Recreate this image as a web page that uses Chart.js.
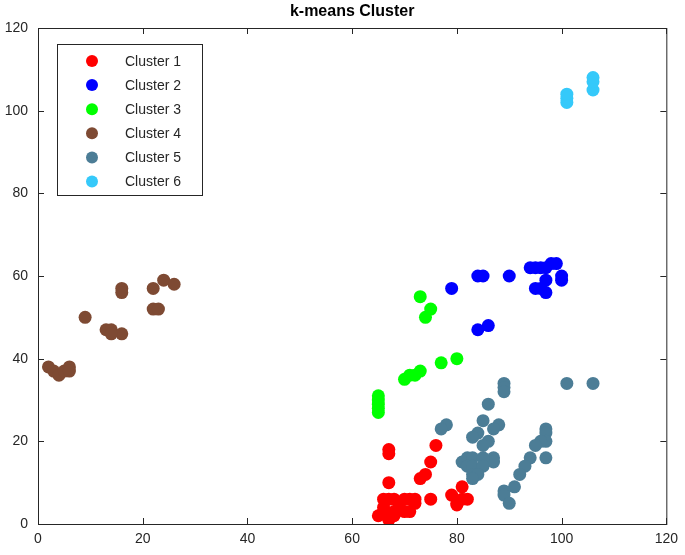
<!DOCTYPE html>
<html>
<head>
<meta charset="utf-8">
<script src="https://cdn.jsdelivr.net/npm/chart.js@4.4.1/dist/chart.umd.min.js"></script>
<style>
    html, body { margin: 0; padding: 0; background: #fff; }
    #wrap { width: 685px; height: 555px; }
</style>
</head>
<body>
<div id="wrap"><canvas id="kmeans"></canvas></div>
<script>
// du lieu doc tu hinh
const clusterNames = ['Cluster 1', 'Cluster 2', 'Cluster 3', 'Cluster 4', 'Cluster 5', 'Cluster 6'];
const clusterColors = ['#FF0000', '#0000FF', '#00FF00', '#7E4A33', '#4C7D96', '#35C9FA'];
const xTicks = [0, 20, 40, 60, 80, 100, 120];
const yTicks = [0, 20, 40, 60, 80, 100, 120];

const cluster1 = [
    [67, 18], [67, 17], [76, 19], [75, 15], [74, 12], [73, 11], [67, 10], [75, 6],
    [81, 9], [79, 7], [80, 5], [81, 6], [82, 6], [80, 4.6],
    [65, 2], [66, 6], [67, 6], [68, 6], [70, 6], [71, 6], [72, 6], [72, 5], [71, 3],
    [70, 3], [68, 3], [66, 4], [66, 3], [68, 2], [67, 1], [69, 4]
];
const cluster2 = [
    [79, 57], [84, 60], [85, 60], [90, 60], [94, 62], [95, 62], [96, 62], [97, 62],
    [98, 63], [99, 63], [100, 60], [100, 59], [95, 57], [96, 57], [97, 56], [97, 59],
    [84, 47], [86, 48]
];
const cluster3 = [
    [73, 55], [75, 52], [74, 50], [80, 40], [77, 39], [73, 37], [72, 36], [71, 36],
    [70, 35], [65, 31], [65, 30], [65, 29], [65, 28], [65, 27]
];
const cluster4 = [
    [16, 57], [16, 56], [22, 57], [24, 59], [26, 58], [22, 52], [23, 52], [9, 50],
    [13, 47], [14, 47], [16, 46], [14, 46], [2, 38], [3, 37], [4, 36], [5, 37],
    [6, 38], [6, 37]
];
const cluster5 = [
    [101, 34], [106, 34], [89, 34], [89, 33], [89, 32], [86, 29], [78, 24], [77, 23],
    [85, 25], [88, 24], [87, 23], [84, 22], [83, 21], [86, 20], [85, 19],
    [97, 23], [97, 22], [97, 20], [96, 20], [95, 19], [97, 16], [94, 16], [93, 14],
    [92, 12], [91, 9], [89, 8], [89, 7], [90, 5], [87, 16], [87, 15],
    [81, 15], [82, 16], [83, 16], [85, 16], [82, 14], [83, 14], [85, 14], [83, 12],
    [84, 12], [83, 11]
];
const cluster6 = [
    [101, 102], [101, 103], [101, 104], [106, 105], [106, 107], [106, 108]
];
const clusterPoints = [cluster1, cluster2, cluster3, cluster4, cluster5, cluster6];

const fontFamily = '"Liberation Sans", Arial, sans-serif';
const textColor = '#262626';

// ve khung, vach chia huong vao trong, tieu de va chu thich
const matlabFrame = {
    id: 'matlabFrame',
    afterDraw(chart) {
        const ctx = chart.ctx;
        const area = chart.chartArea;
        const xs = chart.scales.x;
        const ys = chart.scales.y;
        ctx.save();
        ctx.strokeStyle = '#262626';
        ctx.lineWidth = 1;
        ctx.strokeRect(area.left + 0.5, area.top + 0.5, area.right - area.left, area.bottom - area.top);
        ctx.beginPath();
        xTicks.forEach(v => {
            const px = Math.round(xs.getPixelForValue(v)) + 0.5;
            ctx.moveTo(px, area.bottom);
            ctx.lineTo(px, area.bottom - 6);
            ctx.moveTo(px, area.top);
            ctx.lineTo(px, area.top + 6);
        });
        yTicks.forEach(v => {
            const py = Math.round(ys.getPixelForValue(v)) + 0.5;
            ctx.moveTo(area.left, py);
            ctx.lineTo(area.left + 6, py);
            ctx.moveTo(area.right, py);
            ctx.lineTo(area.right - 6, py);
        });
        ctx.stroke();

        // tieu de
        ctx.fillStyle = '#000';
        ctx.font = 'bold 16px ' + fontFamily;
        ctx.textAlign = 'center';
        ctx.textBaseline = 'middle';
        ctx.fillText('k-means Cluster', (area.left + area.right) / 2, 12);

        // chu thich
        const boxLeft = 57, boxTop = 44, boxW = 145, boxH = 151;
        ctx.fillStyle = '#fff';
        ctx.fillRect(boxLeft, boxTop, boxW, boxH);
        ctx.strokeStyle = '#262626';
        ctx.strokeRect(boxLeft + 0.5, boxTop + 0.5, boxW, boxH);
        ctx.font = '14px ' + fontFamily;
        ctx.textAlign = 'left';
        chart.data.datasets.forEach((ds, i) => {
            const cy = 61 + i * 24.1;
            ctx.fillStyle = ds.backgroundColor;
            ctx.beginPath();
            ctx.arc(92, cy, 6, 0, Math.PI * 2);
            ctx.fill();
            ctx.fillStyle = textColor;
            ctx.fillText(ds.label, 125, cy + 1);
        });
        ctx.restore();
    }
};

const datasets = clusterNames.map((name, i) => ({
    label: name,
    data: clusterPoints[i].map(p => ({ x: p[0], y: p[1] })),
    backgroundColor: clusterColors[i],
    borderWidth: 0,
    pointRadius: 6.5,
    pointHoverRadius: 6.5,
    order: clusterNames.length - i
}));

const ctx = document.getElementById('kmeans').getContext('2d');
new Chart(ctx, {
    type: 'scatter',
    data: { datasets: datasets },
    options: {
        responsive: true,
        maintainAspectRatio: false,
        animation: false,
        layout: { padding: { top: 28, right: 17, left: 0, bottom: 0 } },
        plugins: {
            legend: { display: false },
            title: { display: false },
            tooltip: { enabled: false }
        },
        scales: {
            x: {
                type: 'linear',
                min: 0,
                max: 120,
                afterBuildTicks: scale => { scale.ticks = xTicks.map(v => ({ value: v })); },
                afterFit: scale => { scale.height = 31; },
                grid: { display: false, drawTicks: false },
                border: { display: false },
                ticks: {
                    padding: 7,
                    color: textColor,
                    font: { family: fontFamily, size: 14 },
                    maxRotation: 0
                }
            },
            y: {
                type: 'linear',
                min: 0,
                max: 120,
                afterBuildTicks: scale => { scale.ticks = yTicks.map(v => ({ value: v })); },
                afterFit: scale => { scale.width = 38; },
                grid: { display: false, drawTicks: false },
                border: { display: false },
                ticks: {
                    padding: 10,
                    color: textColor,
                    font: { family: fontFamily, size: 14 }
                }
            }
        }
    },
    plugins: [matlabFrame]
});
</script>
</body>
</html>
